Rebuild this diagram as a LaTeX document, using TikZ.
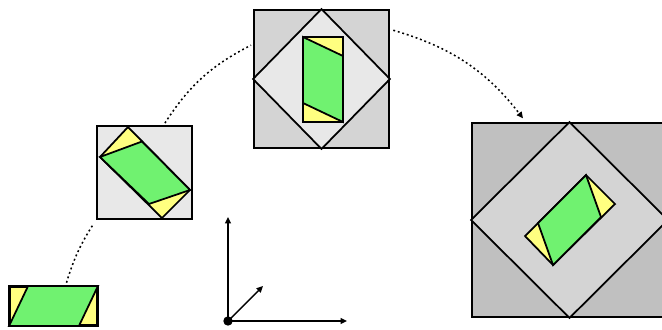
\documentclass[tikz,border=0pt]{standalone}
\usepackage{tikz}
\usetikzlibrary{arrows.meta,positioning,calc}
\definecolor{piecegreen}{RGB}{112,242,112}
\definecolor{pieceyellow}{RGB}{255,255,128}
\definecolor{palegray}{RGB}{232,232,232}
\definecolor{midgray}{RGB}{212,212,212}
\definecolor{darkgray}{RGB}{192,192,192}
\tikzset{
  framebox/.style={rectangle, draw=black, line width=1.6pt, inner sep=0pt},
  diamondpart/.style={draw=black, line width=1.5pt, line join=miter},
  greenpart/.style={fill=piecegreen, draw=black, line width=1.5pt},
  yellowpart/.style={fill=pieceyellow, draw=black, line width=1.5pt},
  % connectors
  flowline/.style={line width=1.3pt, dash pattern=on 1.6pt off 2.4pt},
  flowarrow/.style={flowline, -{Triangle[length=5.5pt,width=5pt]}},
  axisarrow/.style={-{Triangle[length=5.5pt,width=5pt]}, line width=1.2pt},
}

\begin{document}
\begin{tikzpicture}[x=0.03cm, y=-0.03cm]
    \useasboundingbox (0,0) rectangle (662,329);
    \clip (0,0) rectangle (662,329);

    % frames
    \node[framebox, fill=pieceyellow, minimum width=2.61cm, minimum height=1.14cm] (lowbox) at (53.5,306) {};
    \node[framebox, fill=palegray, minimum width=2.85cm, minimum height=2.79cm] (midbox) at (144.5,172.5) {};
    \node[framebox, fill=midgray, minimum width=4.05cm, minimum height=4.14cm] (bigbox) at (321.5,79) {};
    \node[framebox, fill=darkgray, minimum width=5.85cm, minimum height=5.82cm] (hugebox) at (569.5,220) {};

    % first piece
    \draw[greenpart] (lowbox.south west) -- ($(lowbox.north west)+(19,0)$)
      -- (lowbox.north east) -- ($(lowbox.south east)+(-19,0)$) -- cycle;
    \draw[framebox] (lowbox.south west) rectangle (lowbox.north east);

    % second piece
    \draw[yellowpart] (100,157) -- (128,127) -- (190,190) -- (162,218) -- cycle;
    \draw[greenpart] (100,157) -- (142,141.5) -- (190,190) -- (149,204) -- cycle;

    % third piece
    \draw[diamondpart, fill=palegray] (bigbox.north) -- (bigbox.east) -- (bigbox.south) -- (bigbox.west) -- cycle;
    \draw[yellowpart] (303,37) rectangle (343,122);
    \draw[greenpart] (303,37) -- (343,56) -- (343,122) -- (303,103) -- cycle;

    % fourth piece
    \draw[diamondpart, fill=midgray] (hugebox.north) -- (hugebox.east) -- (hugebox.south) -- (hugebox.west) -- cycle;
    \draw[yellowpart] (586,175) -- (615,204) -- (553,265) -- (525,236) -- cycle;
    \draw[greenpart] (586,175) -- (601,217) -- (553,265) -- (538,223) -- cycle;

    % dotted path
    \draw[flowline, shorten <=3pt, shorten >=4pt] (lowbox.59) to[bend left=8] (midbox.south west);
    \draw[flowline, shorten <=2pt, shorten >=2pt] (midbox.68) to[bend left=15] (bigbox.153);
    \draw[flowarrow, shorten <=3pt, shorten >=4pt] (bigbox.36) to[bend left=18] (hugebox.114);

    % axes
    \node[circle, fill=black, inner sep=0pt, minimum size=8pt] (origin) at (228,321) {};
    \coordinate (xtip) at (347,321);
    \coordinate (ytip) at (228,217);
    \coordinate (ztip) at (263,286);
    \draw[axisarrow] (origin.center) -- (xtip);
    \draw[axisarrow] (origin.center) -- (ytip);
    \draw[axisarrow] (origin.center) -- (ztip);
  \end{tikzpicture}
\end{document}
